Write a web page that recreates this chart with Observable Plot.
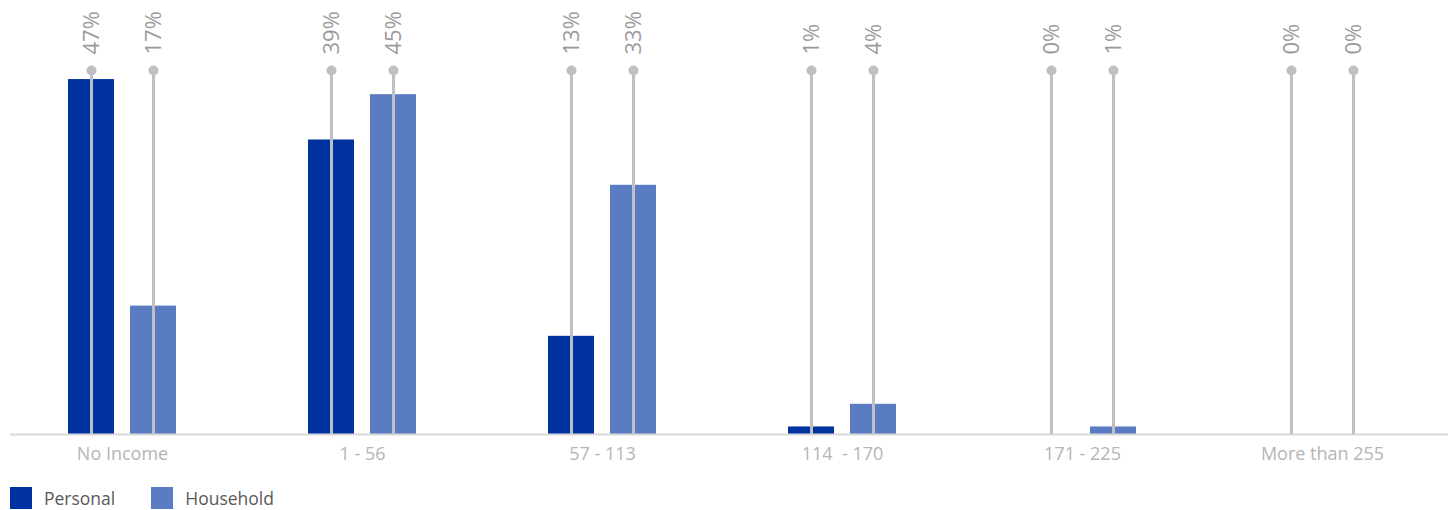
<!DOCTYPE html>
<html>
<head>
<meta charset="utf-8">
<script src="https://cdn.jsdelivr.net/npm/d3@7"></script>
<script src="https://cdn.jsdelivr.net/npm/@observablehq/plot@0.6"></script>
<style>
  html, body { margin: 0; padding: 0; background: #fff; }
  body { width: 1454px; height: 510px; overflow: hidden; font-family: "Open Sans", sans-serif; }
  #legend { display: flex; align-items: center; height: 40px; margin-top: 8px; padding-left: 10px; font-size: 17.5px; color: #595959; }
  .item { display: flex; align-items: center; margin-right: 36px; }
  .sw { width: 22px; height: 22px; margin-right: 12px; }
</style>
</head>
<body>
<div id="chart"></div>
<div id="legend"></div>
<script>
const categories = ["No Income", "1 - 56", "57 - 113", "114\u00a0 - 170", "171 - 225", "More than 255"];
const series = ["Personal", "Household"];
const personal = [47, 39, 13, 1, 0, 0];
const household = [17, 45, 33, 4, 1, 0];
const colors = ["#0033a0", "#5a7cc3"];
const offsets = [-31, 31];

const lineTop = 48.2;
const values = [personal, household];
const rows = series.map((s, i) => categories.map((c, j) => ({category: c, series: s, value: values[i][j]})));

const marks = [];
rows.forEach((data, i) => {
  marks.push(Plot.barY(data, {x: "category", y: "value", fill: colors[i], dx: offsets[i], insetLeft: 97, insetRight: 97}));
});
marks.push(Plot.ruleY([0], {stroke: "#d9d9d9", strokeWidth: 2, insetLeft: 8, insetRight: -6}));
rows.forEach((data, i) => {
  marks.push(Plot.ruleX(data, {x: "category", y1: 0, y2: lineTop, stroke: "#c0c0c4", strokeWidth: 3, dx: offsets[i]}));
  marks.push(Plot.dot(data, {x: "category", y: lineTop, r: 5, fill: "#c0c0c4", dx: offsets[i]}));
  marks.push(Plot.text(data, {x: "category", y: lineTop, text: d => d.value + "%", rotate: -90, textAnchor: "start", lineAnchor: "middle", dx: offsets[i], dy: -16, fill: "#9a9a9a", fontSize: 22}));
});

const chart = Plot.plot({
  width: 1454,
  height: 470,
  marginTop: 70,
  marginBottom: 36,
  marginLeft: 2,
  marginRight: 12,
  style: {fontFamily: "Open Sans, sans-serif", background: "#fff"},
  x: {domain: categories, padding: 0, tickSize: 0, tickPadding: 13, label: null},
  y: {domain: [0, lineTop], axis: null},
  marks
});
const xg = chart.querySelector('g[aria-label="x-axis tick label"]');
if (xg) {
  xg.style.fontSize = "18px"; xg.style.fill = "#b5b5b5"; xg.setAttribute("fill", "#b5b5b5");
  xg.querySelectorAll("text").forEach(el => { el.style.fontSize = "18px"; });
}
document.getElementById("chart").appendChild(chart);

const legend = document.getElementById("legend");
series.forEach((s, i) => {
  const item = document.createElement("div");
  item.className = "item";
  const sw = document.createElement("div");
  sw.className = "sw";
  sw.style.background = colors[i];
  const t = document.createElement("span");
  t.textContent = s;
  item.appendChild(sw); item.appendChild(t);
  legend.appendChild(item);
});
</script>
</body>
</html>
